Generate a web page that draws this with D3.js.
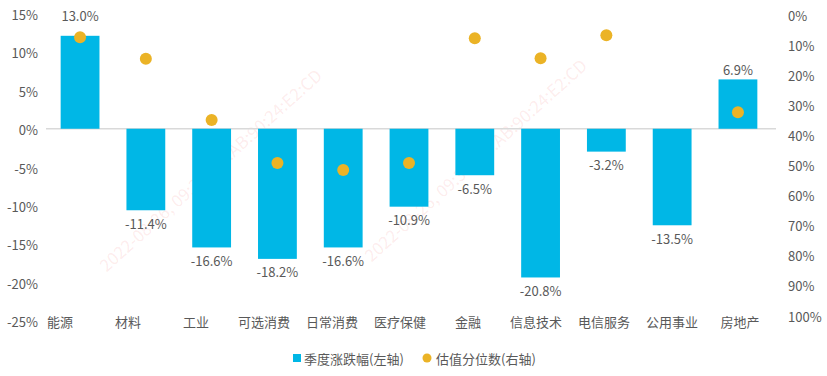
<!DOCTYPE html>
<html>
<head>
<meta charset="utf-8">
<script src="https://cdn.jsdelivr.net/npm/d3@7"></script>
<style>
    body { margin: 0; background: #fff; }
    text { font-family: "Noto Sans CJK SC", "Noto Sans", sans-serif; fill: #595959; font-size: 13px; }
</style>
</head>
<body>
<div id="chart"></div>
<script>
var categories = ["能源", "材料", "工业", "可选消费", "日常消费", "医疗保健", "金融", "信息技术", "电信服务", "公用事业", "房地产"];
var quarterChange = [13.0, -11.4, -16.6, -18.2, -16.6, -10.9, -6.5, -20.8, -3.2, -13.5, 6.9];
var valuationPct = [7.4, 14.5, 34.9, 49.2, 51.5, 49.2, 7.7, 14.4, 6.7, null, 32.3];
var leftTicks = [15, 10, 5, 0, -5, -10, -15, -20, -25];
var rightTicks = [0, 10, 20, 30, 40, 50, 60, 70, 80, 90, 100];
var legendNames = ["季度涨跌幅(左轴)", "估值分位数(右轴)"];

function init() {
    var w = 827;
    var h = 376;
    var barColor = "#00B7E6";
    var dotColor = "#EBB326";

    var svg = d3.select("#chart")
        .append("svg")
        .attr("width", w)
        .attr("height", h);

    // faint watermark
    var marks = [[215, 175], [480, 165]];
    svg.selectAll(".wm")
        .data(marks)
        .enter().append("text")
        .attr("class", "wm")
        .attr("transform", function (d) { return `translate(${d[0]},${d[1]}) rotate(-42)`; })
        .attr("text-anchor", "middle")
        .style("fill", "rgba(240,80,80,0.11)")
        .style("font-size", "17px")
        .text("2022-08-26, 09:39, 6C:AB:90:24:E2:CD");

    var xScale = d3.scaleBand()
        .domain(categories)
        .range([47.5, 770.5])
        .paddingInner(0.41)
        .paddingOuter(0.2);

    // tick label positions
    var yLeft = d3.scaleLinear().domain([-25, 15]).range([321.5, 14.5]);
    var yRight = d3.scaleLinear().domain([0, 100]).range([15, 316]);
    // bars are drawn a bit shorter than the tick labels suggest
    var yBar = d3.scaleLinear().domain([-25, 15]).range([307.5, 21.5]);
    var xLabel = d3.scalePoint().domain(categories).range([60, 740]);

    var rows = categories.map(function (c, i) {
        return { cat: c, change: quarterChange[i], pct: valuationPct[i] };
    });

    function cx(d) { return xScale(d.cat) + xScale.bandwidth() / 2; }

    // zero line
    svg.append("line")
        .attr("x1", 46).attr("x2", 776)
        .attr("y1", yBar(0)).attr("y2", yBar(0))
        .style("stroke", "#D9D9D9")
        .style("stroke-width", 1.5);

    svg.selectAll(".bar")
        .data(rows)
        .enter().append("rect")
        .attr("class", "bar")
        .attr("x", function (d) { return xScale(d.cat); })
        .attr("width", xScale.bandwidth())
        .attr("y", function (d) { return yBar(Math.max(0, d.change)); })
        .attr("height", function (d) { return Math.abs(yBar(d.change) - yBar(0)); })
        .style("fill", barColor);

    svg.selectAll(".vlabel")
        .data(rows)
        .enter().append("text")
        .attr("class", "vlabel")
        .attr("x", cx)
        .attr("y", function (d) {
            if (d.change < 0) return yBar(d.change) + 13;
            // keep positive labels clear of the dot
            var y = yBar(d.change) - 10;
            if (d.pct != null) y = Math.min(y, yRight(d.pct) - 22);
            return y;
        })
        .attr("text-anchor", "middle")
        .attr("dominant-baseline", "central")
        .text(function (d) { return d.change.toFixed(1) + "%"; });

    svg.selectAll(".dot")
        .data(rows.filter(function (d) { return d.pct != null; }))
        .enter().append("circle")
        .attr("class", "dot")
        .attr("cx", cx)
        .attr("cy", function (d) { return yRight(d.pct); })
        .attr("r", 6)
        .style("fill", dotColor);

    // left axis labels
    svg.selectAll(".ltick")
        .data(leftTicks)
        .enter().append("text")
        .attr("x", 38)
        .attr("y", function (d) { return yLeft(d); })
        .attr("text-anchor", "end")
        .attr("dominant-baseline", "central")
        .text(function (d) { return d + "%"; });

    // right axis labels
    svg.selectAll(".rtick")
        .data(rightTicks)
        .enter().append("text")
        .attr("x", 788)
        .attr("y", function (d) { return yRight(d); })
        .attr("dominant-baseline", "central")
        .text(function (d) { return d + "%"; });

    // category labels
    svg.selectAll(".cat")
        .data(categories)
        .enter().append("text")
        .attr("x", function (d) { return xLabel(d); })
        .attr("y", 321.5)
        .attr("text-anchor", "middle")
        .attr("dominant-baseline", "central")
        .text(function (d) { return d; });

    // legend
    var legend = svg.append("g").attr("transform", "translate(293,358)");
    legend.append("rect")
        .attr("x", 0).attr("y", -4)
        .attr("width", 8).attr("height", 8)
        .style("fill", barColor);
    legend.append("text")
        .attr("x", 11).attr("y", 0)
        .attr("dominant-baseline", "central")
        .text(legendNames[0]);
    legend.append("circle")
        .attr("cx", 134).attr("cy", 0)
        .attr("r", 4.5)
        .style("fill", dotColor);
    legend.append("text")
        .attr("x", 143).attr("y", 0)
        .attr("dominant-baseline", "central")
        .text(legendNames[1]);
}

window.onload = init;
</script>
</body>
</html>
